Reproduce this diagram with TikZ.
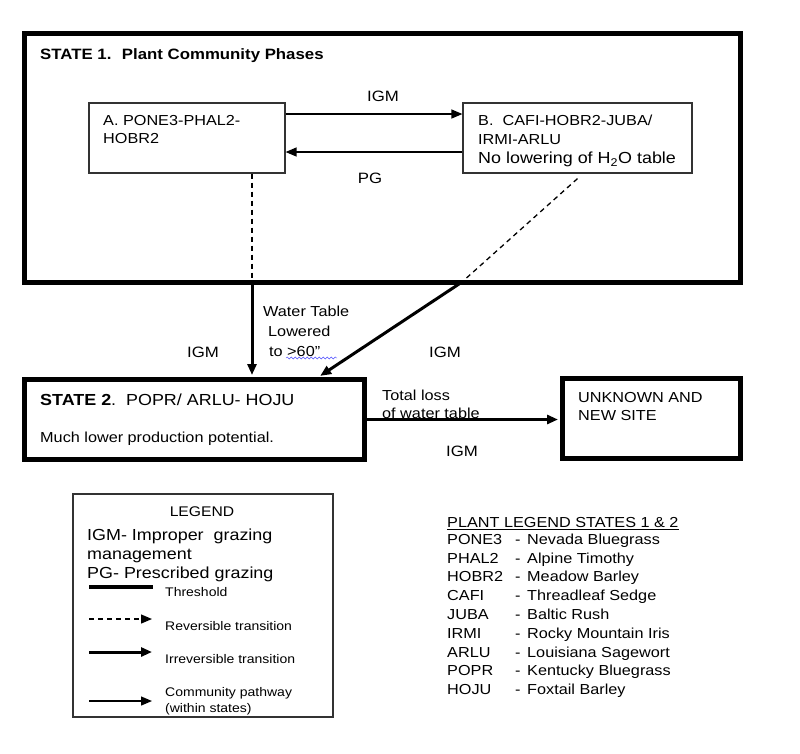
\documentclass[tikz,border=0pt]{standalone}
\usepackage{fontspec}
\setmainfont{Liberation Sans}[FakeStretch=1.12]
\usetikzlibrary{positioning,arrows.meta,decorations.pathmorphing}

\tikzset{
  statebox/.style={draw, line width=5pt, inner sep=0pt},
  phasebox/.style={draw=black!80, line width=1.2pt, inner sep=0pt},
  txt/.style={inner sep=0pt, align=left, font=\fontsize{14.5}{18}\selectfont},
  lbl/.style={inner sep=0pt, font=\fontsize{15}{18}\selectfont},
  small/.style={inner sep=0pt, align=left, font=\fontsize{12.5}{16}\selectfont},
  pathway/.style={->, line width=1.3pt},
  irrev/.style={->, line width=3pt},
  revers/.style={dash pattern=on 5pt off 4pt, line width=1.3pt},
}

\begin{document}
\begin{tikzpicture}[x=1pt, y=-1pt, >={Triangle[length=11pt,width=9pt]}]
  \useasboundingbox (0,0) rectangle (800,753);

  % State 1 and its phases
  \node[statebox, minimum width=716pt, minimum height=249pt] (S1) at (382,157.5) {};
  \node[txt, font=\bfseries\fontsize{15}{18}\selectfont, anchor=base west] (S1t) at (40,59.5)
    {STATE 1.\hspace{0.7em}Plant Community Phases};

  \node[phasebox, minimum width=196pt, minimum height=70pt] (A) at (187,138) {};
  \node[txt, anchor=north west] (At) at (103,115) {A. PONE3-PHAL2-\\HOBR2};

  \node[phasebox, minimum width=229pt, minimum height=70pt] (B) at (577.5,138) {};
  \node[txt, anchor=north west, font=\fontsize{14.5}{19}\selectfont] (Bt) at (478,115)
    {B.\ \ CAFI-HOBR2-JUBA/\\IRMI-ARLU\\{\fontsize{16}{19}\selectfont No lowering of H\textsubscript{2}O table}};

  % State 2 and unknown site
  \node[statebox, minimum width=340pt, minimum height=80pt] (S2) at (194.5,419.5) {};
  \node[txt, anchor=base west, font=\fontsize{16}{18}\selectfont] (S2t) at (40,405.5)
    {\textbf{STATE 2}.\ \ POPR/ ARLU- HOJU};
  \node[txt, anchor=base west] (S2d) at (40,442) {Much lower production potential.};

  \node[statebox, minimum width=178pt, minimum height=80pt] (U) at (651.5,418.5) {};
  \node[txt, anchor=north west] (Ut) at (578,392) {UNKNOWN AND\\NEW SITE};

  % pathways inside state 1
  \draw[pathway] ([yshift=24pt]A.east) -- ([yshift=24pt]B.west)
    node[lbl, midway, above=12pt, xshift=9pt] (igmAB) {IGM};
  \draw[pathway] ([yshift=-14pt]B.west) -- ([yshift=-14pt]A.east)
    node[lbl, midway, below=20pt, xshift=-4pt] (pgBA) {PG};

  % transitions to state 2
  \coordinate (w1) at ([xshift=65pt]A.south |- S1.south);
  \draw[revers] ([xshift=65pt]A.south) -- (w1);
  \draw[irrev, shorten >=2pt] (w1) -- (w1 |- S2.north);

  \coordinate (w2) at (462,282);
  \draw[revers] ([yshift=-5pt]B.south) -- (w2);
  \draw[irrev, shorten >=2pt] (w2) -- ([xshift=124pt]S2.north);

  \node[txt, anchor=north west, font=\fontsize{14.5}{20}\selectfont] (wt) at (263,306)
    {Water Table\\\hspace*{5pt}Lowered\\\hspace*{6pt}to >60”};
  \draw[blue!70, decorate, decoration={snake, amplitude=1pt, segment length=4pt}]
    (286,358) -- (337,358);
  \node[lbl] (igm1) at (203,352) {IGM};
  \node[lbl] (igm2) at (445,352) {IGM};

  % transition to unknown site
  \draw[irrev, shorten >=2pt] (S2.east) -- (S2.east -| U.west);
  \node[txt, anchor=north west] (loss) at (382,390) {Total loss\\of water table};
  \node[lbl] (igm3) at (462,451) {IGM};

  % legend
  \node[phasebox, minimum width=260pt, minimum height=223pt] (L) at (203,605.5) {};
  \node[lbl, font=\fontsize{14}{16}\selectfont] (Lt) at (202,512) {LEGEND};
  \node[txt, anchor=north west, font=\fontsize{16}{19}\selectfont] (Lab) at (87,529)
    {IGM- Improper\ \ grazing\\management\\PG- Prescribed grazing};

  \draw[line width=4pt] (89,587) -- (153,587);
  \node[small, anchor=base west] (Lthr) at (165,596.5) {Threshold};
  \draw[revers, ->] (89,619) -- (152,619);
  \node[small, anchor=base west] (Lrev) at (165,630.5) {Reversible transition};
  \draw[irrev] (89,652) -- (152,652);
  \node[small, anchor=base west] (Lirr) at (165,663.5) {Irreversible transition};
  \draw[pathway] (89,701) -- (152,701);
  \node[small, anchor=north west] (Lcom) at (165,687) {Community pathway\\(within states)};

  % plant legend
  \node[txt, anchor=base west] (Pt) at (447,527.2) {\underline{PLANT LEGEND STATES 1 \& 2}};
  \foreach \code/\plant [count=\i] in {PONE3/Nevada Bluegrass, PHAL2/Alpine Timothy,
      HOBR2/Meadow Barley, CAFI/Threadleaf Sedge, JUBA/Baltic Rush,
      IRMI/Rocky Mountain Iris, ARLU/Louisiana Sagewort, POPR/Kentucky Bluegrass,
      HOJU/Foxtail Barley} {
    \node[txt, anchor=base west] (code\i) at (447,525.4+18.8*\i) {\code};
    \node[txt, anchor=base west] (dash\i) at (515,525.4+18.8*\i) {-};
    \node[txt, anchor=base west] (plant\i) at (527,525.4+18.8*\i) {\plant};
  }

\end{tikzpicture}
\end{document}
